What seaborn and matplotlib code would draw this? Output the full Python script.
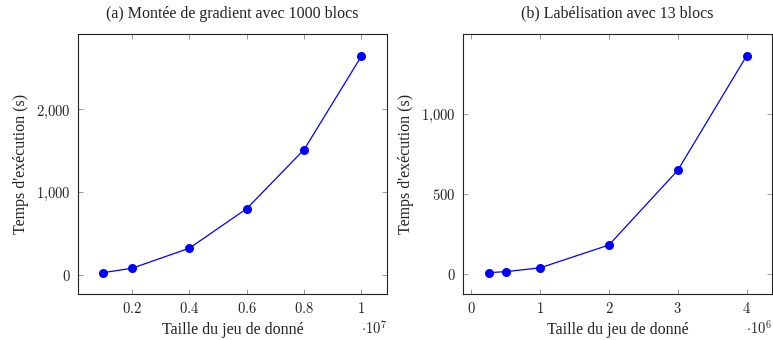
import matplotlib
matplotlib.use("Agg")
import matplotlib.pyplot as plt
import seaborn as sns
import pandas as pd

# Data
size_a = [0.1, 0.2, 0.4, 0.6, 0.8, 1.0]          # x 1e7
time_a = [28, 81, 324, 802, 1515, 2645]
size_b = [0.25, 0.5, 1, 2, 3, 4]                 # x 1e6
time_b = [6, 12, 36, 179, 647, 1364]

title_a = "(a) Montée de gradient avec 1000 blocs"
title_b = "(b) Labélisation avec 13 blocs"
xlabel = "Taille du jeu de donné"
ylabel = "Temps d'exécution (s)"

xt_a = [0.2, 0.4, 0.6, 0.8, 1.0]
xtl_a = ["0.2", "0.4", "0.6", "0.8", "1"]
yt_a = [0, 1000, 2000]
ytl_a = ["0", "1{,}000", "2{,}000"]
xt_b = [0, 1, 2, 3, 4]
xtl_b = ["0", "1", "2", "3", "4"]
yt_b = [0, 500, 1000]
ytl_b = ["0", "500", "1{,}000"]

sns.set_theme(style="white")
plt.rcParams["font.family"] = ["Liberation Serif", "DejaVu Serif"]
plt.rcParams["mathtext.fontset"] = "cm"

fig = plt.figure(figsize=(7.73, 3.40), dpi=100)
ax1 = fig.add_axes([0.1005, 0.1344, 0.4005, 0.7646])
ax2 = fig.add_axes([0.5986, 0.1344, 0.4005, 0.7646])

df_a = pd.DataFrame({"x": size_a, "y": time_a})
df_b = pd.DataFrame({"x": size_b, "y": time_b})

def style(ax, df, title, xt, xtl, yt, ytl, xlim, ylim, mult):
    sns.lineplot(data=df, x="x", y="y", ax=ax, color="#0000ff", linewidth=0.9,
                 marker="o", markersize=6.5, markeredgewidth=0, markerfacecolor="#0000ff")
    ax.set_xlim(*xlim)
    ax.set_ylim(*ylim)
    ax.set_xticks(xt)
    ax.set_xticklabels(["$" + t + "$" for t in xtl], fontsize=10.5)
    ax.set_yticks(yt)
    ax.set_yticklabels(["$" + t + "$" for t in ytl], fontsize=10.5)
    ax.tick_params(direction="in", length=3.5, width=0.6, color="#888888",
                   top=True, right=True, bottom=True, left=True, pad=5, labelcolor="#222222")
    for s in ax.spines.values():
        s.set_linewidth(0.8)
        s.set_color("#222222")
    ax.set_title(title, fontsize=11.5, pad=12, color="#222222")
    ax.set_xlabel(xlabel, fontsize=11.5, labelpad=4, color="#222222")
    ax.set_ylabel(ylabel, fontsize=11.5, labelpad=5, color="#222222")
    ax.text(1.0, -0.13, r"$\cdot 10^{%d}$" % mult, transform=ax.transAxes,
            ha="right", va="center", fontsize=10.5, color="#222222")

style(ax1, df_a, title_a, xt_a, xtl_a, yt_a, ytl_a, (0.01, 1.09), (-234, 2907), 7)
style(ax2, df_b, title_b, xt_b, xtl_b, yt_b, ytl_b, (-0.125, 4.375), (-130, 1500), 6)

fig.savefig("out.png", dpi=100)
